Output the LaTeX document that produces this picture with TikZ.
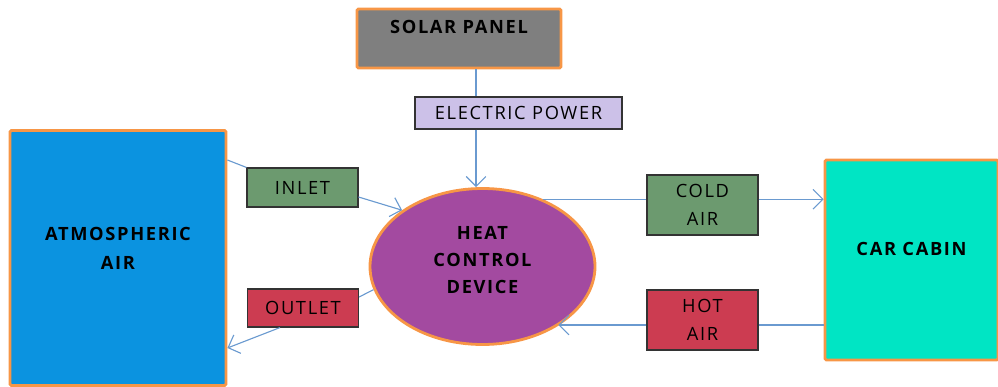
\documentclass[tikz,border=0pt]{standalone}
\usepackage{fontspec}
\setmainfont{Open Sans}
\newfontfamily\boxfont[LetterSpace=9]{Open Sans}
\usetikzlibrary{arrows.meta,shapes.geometric}
\definecolor{edgeorange}{HTML}{F79646}
\definecolor{linkblue}{HTML}{6A9AD0}
\definecolor{panelgrey}{HTML}{7F7F7F}
\definecolor{powerlilac}{HTML}{CCC1E8}
\definecolor{airblue}{HTML}{0B93E0}
\definecolor{cabinteal}{HTML}{00E5C4}
\definecolor{devicepurple}{HTML}{A34AA0}
\definecolor{inletgreen}{HTML}{6C9A6F}
\definecolor{outletred}{HTML}{CC3C51}

\begin{document}
\begin{tikzpicture}[x=0.025cm,y=-0.025cm,
  bigbox/.style={draw=edgeorange, line width=2pt, rounded corners=1pt, font=\boxfont\bfseries\fontsize{13}{21}\selectfont, align=center, inner sep=0pt},
  tagbox/.style={draw=black!80, line width=0.8pt, font=\boxfont\fontsize{13}{20}\selectfont, align=center, inner sep=0pt, minimum width=111*0.025cm},
  flow/.style={draw=linkblue, line width=0.8pt},
  flowarrow/.style={flow, -{Straight Barb[length=7pt,width=14pt,line width=0.8pt]}}]
\useasboundingbox (0,0) rectangle (998,387);

\node[bigbox, fill=panelgrey, minimum width=204*0.025cm, minimum height=59*0.025cm, text depth=16pt] (solar) at (459,38.5) {SOLAR PANEL};
\node[tagbox, fill=powerlilac, minimum width=207*0.025cm, minimum height=32*0.025cm] (power) at (518.5,113) {ELECTRIC POWER};
\node[bigbox, fill=airblue, minimum width=216*0.025cm, minimum height=255*0.025cm, text depth=14pt] (atmos) at (118,258) {ATMOSPHERIC\\AIR};
\node[bigbox, fill=cabinteal, minimum width=173*0.025cm, minimum height=200*0.025cm, text depth=16pt] (cabin) at (911.5,260) {CAR CABIN};
\node[ellipse, draw=edgeorange, line width=2pt, fill=devicepurple, minimum width=225*0.025cm, minimum height=156*0.025cm, inner sep=0pt, font=\boxfont\bfseries\fontsize{13}{19}\selectfont, align=center, text height=38pt] (device) at (482.5,266.5) {HEAT\\CONTROL\\DEVICE};
\node[tagbox, fill=inletgreen, minimum height=39*0.025cm] (inlet) at (302.5,187.5) {INLET};
\node[tagbox, fill=outletred, minimum height=38*0.025cm] (outlet) at (303,308) {OUTLET};
\node[tagbox, fill=inletgreen, minimum height=60*0.025cm] (cold) at (702.5,205) {COLD\\AIR};
\node[tagbox, fill=outletred, minimum height=60*0.025cm] (hot) at (702.5,320) {HOT\\AIR};

% power supply
\draw[flow] (solar.south -| 476,0) -- (power.north -| 476,0);
\draw[flowarrow] (power.south -| 476,0) -- (device.north -| 476,0);
% outside air loop
\draw[flow] (atmos.east |- 0,160) -- (inlet.north west);
\draw[flowarrow] (inlet.east |- 0,197) -- (device.145);
\draw[flow] (device.192) -- (outlet.east |- 0,297);
\draw[flowarrow] (outlet.south -| 280,0) -- (atmos.east |- 0,348);
% cabin loop
\draw[flow] (device.48) -- (cold.west |- device.48);
\draw[flowarrow] (cold.east |- device.48) -- (cabin.west |- device.48);
\draw[flow] (cabin.west |- 0,325) -- (hot.east |- 0,325);
\draw[flowarrow] (hot.west |- 0,325) -- (device.-38 |- 0,325);
\end{tikzpicture}
\end{document}
